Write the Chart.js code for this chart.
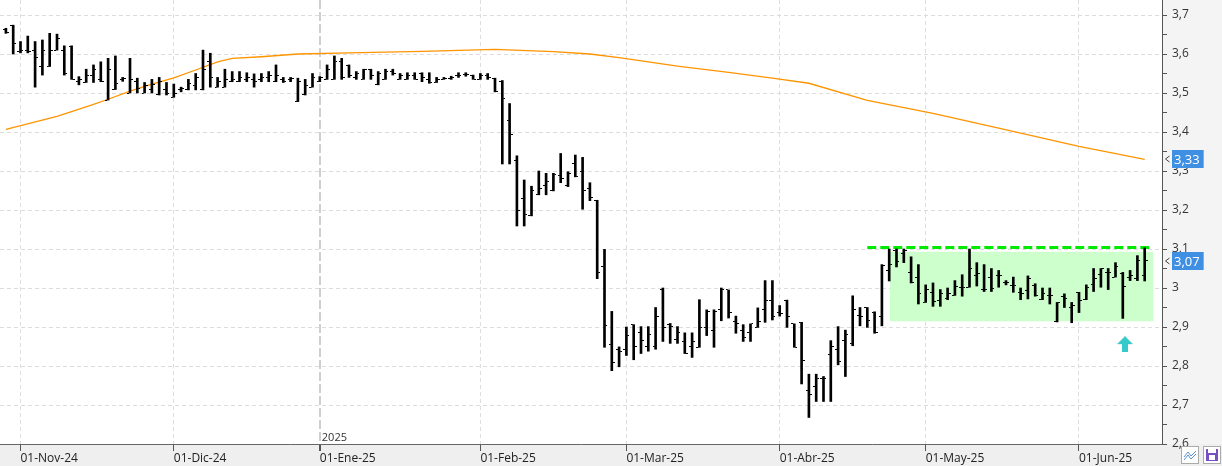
<!DOCTYPE html>
<html>
<head>
<meta charset="utf-8">
<script src="https://cdn.jsdelivr.net/npm/chart.js@4.4.1/dist/chart.umd.min.js"></script>
<style>
  html, body { margin: 0; padding: 0; background: #fff; }
  #wrap { width: 1222px; height: 466px; }
</style>
</head>
<body>
<div id="wrap"><canvas id="chart" width="1222" height="466"></canvas></div>
<script>
// trading-day index: 0 = 01-Nov-24, -2 / -1 = last two sessions of October
const firstIndex = -2;

const opens = [
    3.662, 3.674, 3.607, 3.610, 3.610, 3.568, 3.568, 3.610, 3.610, 3.620,
    3.530, 3.527, 3.545, 3.535, 3.482, 3.509, 3.535, 3.500, 3.530, 3.500,
    3.510, 3.495, 3.510, 3.489, 3.510, 3.510, 3.520, 3.508, 3.580, 3.515,
    3.515, 3.529, 3.530, 3.535, 3.535, 3.535, 3.540, 3.529, 3.535, 3.535,
    3.478, 3.495, 3.515, 3.529, 3.535, 3.535, 3.580, 3.570, 3.540, 3.535,
    3.560, 3.521, 3.535, 3.555, 3.535, 3.535, 3.545, 3.550, 3.535, 3.527,
    3.535, 3.538, 3.545, 3.548, 3.545, 3.535, 3.545, 3.538, 3.530, 3.430,
    3.326, 3.230, 3.185, 3.239, 3.262, 3.249, 3.288, 3.264, 3.320, 3.300,
    3.256, 3.225, 3.054, 2.854, 2.843, 2.843, 2.906, 2.885, 2.850, 2.850,
    2.995, 2.906, 2.868, 2.864, 2.850, 2.848, 2.900, 2.890, 2.944, 2.995,
    2.913, 2.890, 2.885, 2.899, 2.944, 2.969, 2.938, 2.969, 2.908, 2.912,
    2.738, 2.748, 2.769, 2.829, 2.843, 2.865, 2.858, 2.930, 2.949, 2.937,
    2.927, 3.045, 3.097, 3.089, 3.041, 3.028, 2.963, 2.989, 2.968, 2.972,
    2.981, 3.002, 3.002, 3.031, 2.995, 3.026, 3.032, 3.013, 3.006, 2.989,
    2.994, 3.006, 2.970, 2.981, 2.913, 2.979, 2.950, 2.989, 2.970, 3.008,
    3.034, 3.041, 3.028, 3.037, 3.026, 3.024, 3.031
];
const highs = [
    3.666, 3.674, 3.632, 3.646, 3.632, 3.636, 3.653, 3.651, 3.621, 3.621,
    3.542, 3.561, 3.572, 3.580, 3.589, 3.595, 3.540, 3.589, 3.538, 3.527,
    3.535, 3.540, 3.527, 3.523, 3.515, 3.535, 3.550, 3.610, 3.602, 3.540,
    3.561, 3.555, 3.555, 3.552, 3.549, 3.550, 3.555, 3.572, 3.540, 3.540,
    3.538, 3.535, 3.550, 3.542, 3.572, 3.595, 3.589, 3.572, 3.555, 3.561,
    3.561, 3.555, 3.561, 3.561, 3.550, 3.552, 3.552, 3.552, 3.552, 3.540,
    3.540, 3.543, 3.552, 3.552, 3.546, 3.550, 3.550, 3.538, 3.532, 3.473,
    3.339, 3.277, 3.261, 3.300, 3.294, 3.294, 3.345, 3.298, 3.341, 3.335,
    3.270, 3.225, 3.099, 2.940, 2.849, 2.900, 2.906, 2.901, 2.901, 2.950,
    3.000, 2.909, 2.901, 2.885, 2.885, 2.970, 2.944, 2.944, 3.000, 2.995,
    2.928, 2.906, 2.908, 2.949, 3.019, 3.019, 2.955, 2.969, 2.908, 2.912,
    2.779, 2.779, 2.773, 2.865, 2.901, 2.892, 2.980, 2.950, 2.950, 2.939,
    3.060, 3.100, 3.100, 3.100, 3.080, 3.060, 3.008, 3.013, 2.996, 3.000,
    3.019, 3.034, 3.100, 3.065, 3.060, 3.050, 3.045, 3.019, 3.028, 3.000,
    3.031, 3.011, 3.000, 3.000, 2.963, 2.985, 2.963, 2.989, 3.008, 3.050,
    3.050, 3.050, 3.065, 3.040, 3.045, 3.083, 3.103
];
const lows = [
    3.653, 3.600, 3.603, 3.603, 3.515, 3.546, 3.568, 3.610, 3.546, 3.535,
    3.521, 3.527, 3.527, 3.529, 3.482, 3.509, 3.530, 3.500, 3.500, 3.500,
    3.500, 3.495, 3.495, 3.489, 3.503, 3.508, 3.508, 3.508, 3.515, 3.515,
    3.515, 3.529, 3.529, 3.529, 3.515, 3.529, 3.529, 3.529, 3.527, 3.529,
    3.478, 3.495, 3.515, 3.529, 3.535, 3.535, 3.535, 3.540, 3.535, 3.535,
    3.535, 3.521, 3.535, 3.546, 3.535, 3.535, 3.535, 3.529, 3.525, 3.527,
    3.535, 3.535, 3.540, 3.543, 3.535, 3.535, 3.535, 3.503, 3.318, 3.318,
    3.159, 3.159, 3.185, 3.239, 3.239, 3.249, 3.270, 3.260, 3.285, 3.202,
    3.224, 3.024, 2.848, 2.788, 2.798, 2.827, 2.816, 2.832, 2.838, 2.843,
    2.863, 2.858, 2.858, 2.832, 2.822, 2.848, 2.878, 2.848, 2.916, 2.923,
    2.884, 2.863, 2.863, 2.899, 2.912, 2.918, 2.928, 2.899, 2.848, 2.754,
    2.668, 2.709, 2.709, 2.709, 2.803, 2.773, 2.852, 2.903, 2.899, 2.884,
    2.903, 3.018, 3.054, 3.065, 3.013, 2.959, 2.963, 2.953, 2.953, 2.970,
    2.981, 2.979, 3.002, 3.005, 2.991, 2.991, 3.002, 3.008, 2.989, 2.970,
    2.972, 2.979, 2.970, 2.959, 2.913, 2.950, 2.911, 2.937, 2.970, 2.991,
    3.002, 2.996, 3.028, 2.922, 3.019, 3.019, 3.018
];
const closes = [
    3.656, 3.627, 3.610, 3.607, 3.590, 3.610, 3.610, 3.640, 3.550, 3.535,
    3.535, 3.545, 3.560, 3.530, 3.560, 3.525, 3.538, 3.535, 3.512, 3.520,
    3.522, 3.530, 3.500, 3.500, 3.512, 3.525, 3.540, 3.560, 3.540, 3.530,
    3.535, 3.535, 3.540, 3.540, 3.530, 3.540, 3.545, 3.545, 3.530, 3.538,
    3.530, 3.520, 3.540, 3.540, 3.560, 3.580, 3.540, 3.545, 3.550, 3.560,
    3.545, 3.550, 3.555, 3.550, 3.545, 3.545, 3.535, 3.540, 3.527, 3.535,
    3.538, 3.540, 3.545, 3.548, 3.535, 3.545, 3.540, 3.503, 3.485, 3.394,
    3.198, 3.189, 3.251, 3.255, 3.273, 3.292, 3.281, 3.294, 3.285, 3.249,
    3.232, 3.040, 2.905, 2.810, 2.837, 2.878, 2.849, 2.865, 2.880, 2.928,
    2.900, 2.901, 2.885, 2.832, 2.864, 2.900, 2.939, 2.939, 2.995, 2.938,
    2.909, 2.874, 2.908, 2.913, 2.969, 2.928, 2.935, 2.928, 2.848, 2.814,
    2.728, 2.769, 2.769, 2.850, 2.812, 2.880, 2.944, 2.927, 2.916, 2.885,
    3.057, 3.060, 3.067, 3.095, 3.013, 2.985, 2.996, 2.965, 2.985, 2.985,
    3.005, 3.002, 3.050, 3.037, 2.995, 2.998, 3.032, 3.015, 3.006, 2.985,
    3.024, 2.981, 2.985, 2.981, 2.963, 2.974, 2.955, 2.968, 3.002, 3.024,
    3.050, 3.041, 3.055, 3.005, 3.031, 3.071, 3.070
];

// moving average read at a few sessions, the line joins them
const maIndex = [-2, 5, 10, 12, 15, 18, 21, 24, 27, 29, 33, 38, 45, 55, 65, 73, 78, 82, 90, 97, 103, 108, 116, 125, 134, 145, 154];
const maValue = [3.407, 3.440, 3.471, 3.484, 3.505, 3.523, 3.539, 3.559, 3.580, 3.589, 3.593, 3.600, 3.603, 3.607, 3.612, 3.606, 3.600, 3.591, 3.569, 3.553, 3.538, 3.525, 3.481, 3.448, 3.410, 3.363, 3.330];

// month labels and the session they fall on
const monthLabels = ["01-Nov-24", "01-Dic-24", "01-Ene-25", "01-Feb-25", "01-Mar-25", "01-Abr-25", "01-May-25", "01-Jun-25"];
const monthStarts = [0, 21, 41, 63, 83, 104, 124, 145];
const yearStart = 41;
const yearLabel = "2025";

// lateral range (green box), resistance and signal arrow
const rangeFrom = 119.1, rangeTo = 155.2;
const rangeTop = 3.093, rangeBottom = 2.915;
const resistFrom = 116, resistTo = 155.1, resistLevel = 3.104;
const arrowAt = 151.3, arrowPrice = 2.856;

const yMin = 2.6, yMax = 3.7385;
const yTickValues = [];
for (let k = 0; k <= 22; k++) yTickValues.push(+(2.6 + k * 0.05).toFixed(2));

const isMajor = (v) => Math.abs(v * 10 - Math.round(v * 10)) < 1e-6;
const fmt = (v, d) => Number(v.toFixed(d)).toString().replace(".", ",");

function tickImage(side) {
    const c = document.createElement("canvas");
    c.width = 6;
    c.height = 1;
    const g = c.getContext("2d");
    g.fillStyle = "#000";
    g.fillRect(side === "left" ? 0 : 4, 0, 2, 1);
    return c;
}

function arrowImage() {
    const c = document.createElement("canvas");
    c.width = 16;
    c.height = 16;
    const g = c.getContext("2d");
    g.fillStyle = "#36c9c9";
    g.beginPath();
    g.moveTo(8, 0);
    g.lineTo(16, 8);
    g.lineTo(0, 8);
    g.closePath();
    g.fill();
    g.fillRect(5, 8, 6, 8);
    return c;
}

const bars = [], openPts = [], closePts = [];
opens.forEach((o, k) => {
    const x = firstIndex + k;
    bars.push({ x: x, y: [lows[k], highs[k]] });
    openPts.push({ x: x, y: o });
    closePts.push({ x: x, y: closes[k] });
});
const maPts = maIndex.map((x, k) => ({ x: x, y: maValue[k] }));

// the plot runs right up to the canvas edges
const noPadding = (scale) => {
    scale.paddingLeft = 0;
    scale.paddingRight = 0;
    scale.paddingTop = 0;
    scale.paddingBottom = 0;
};

// backgrounds, value tags and the small icons
const decor = {
    id: "decor",
    beforeDraw(chart) {
        const { ctx, chartArea: a, width, height } = chart;
        ctx.save();
        ctx.fillStyle = "#f4f4f5";
        ctx.fillRect(a.right, 0, width - a.right, a.bottom);
        ctx.fillStyle = "#efefef";
        ctx.fillRect(0, a.bottom, width, height - a.bottom);
        ctx.fillStyle = "#ffffff";
        ctx.fillRect(a.left, a.top, a.right - a.left, a.bottom - a.top);
        ctx.restore();
    },
    afterDraw(chart) {
        const { ctx, chartArea: a, scales } = chart;
        ctx.save();

        // year mark
        ctx.font = "11px 'Open Sans'";
        ctx.fillStyle = "#333";
        ctx.textBaseline = "alphabetic";
        ctx.fillText(yearLabel, scales.x.getPixelForValue(yearStart) + 2, a.bottom - 3);

        // last-value tags
        const tags = [
            maValue[maValue.length - 1],
            closes[closes.length - 1],
        ];
        ctx.font = "13px 'Open Sans'";
        tags.forEach((v) => {
            const y = Math.round(scales.y.getPixelForValue(v));
            const txt = fmt(v, 2);
            const w = ctx.measureText(txt).width + 6;
            ctx.fillStyle = "#3f8fe2";
            ctx.fillRect(a.right + 10, y - 9, w, 18);
            ctx.fillStyle = "#fff";
            ctx.textBaseline = "middle";
            ctx.fillText(txt, a.right + 12, y + 1);
            ctx.strokeStyle = "#444";
            ctx.lineWidth = 1;
            ctx.beginPath();
            ctx.moveTo(a.right + 7.5, y - 3);
            ctx.lineTo(a.right + 3.5, y);
            ctx.lineTo(a.right + 7.5, y + 3);
            ctx.stroke();
        });

        // toolbar icons
        ctx.fillStyle = "#fff";
        ctx.strokeStyle = "#aaa";
        ctx.fillRect(1181.5, 446.5, 17, 17);
        ctx.strokeRect(1181.5, 446.5, 17, 17);
        ctx.strokeStyle = "#5b8fd6";
        ctx.beginPath();
        ctx.moveTo(1184, 457);
        ctx.lineTo(1188, 452);
        ctx.lineTo(1191, 456);
        ctx.lineTo(1196, 451);
        ctx.moveTo(1184, 460);
        ctx.lineTo(1188, 455);
        ctx.lineTo(1191, 459);
        ctx.lineTo(1196, 454);
        ctx.stroke();
        ctx.fillRect(1203.5, 446.5, 17, 17);
        ctx.strokeStyle = "#aaa";
        ctx.strokeRect(1203.5, 446.5, 17, 17);
        ctx.fillStyle = "#7a4fc4";
        ctx.fillRect(1206, 449, 12, 12);
        ctx.fillStyle = "#fff";
        ctx.fillRect(1208, 449, 8, 4);
        ctx.fillRect(1209, 455, 6, 5);
        ctx.restore();
    },
};

const ctx = document.getElementById("chart").getContext("2d");
new Chart(ctx, {
    type: "bar",
    data: {
        datasets: [
            {
                type: "line",
                data: [{ x: resistFrom, y: resistLevel }, { x: resistTo, y: resistLevel }],
                borderColor: "#00ea00",
                borderWidth: 3,
                borderDash: [9, 4],
                pointRadius: 0,
                order: 5,
            },
            {
                type: "line",
                data: [{ x: rangeFrom, y: rangeTop }, { x: rangeTo, y: rangeTop }],
                borderWidth: 0,
                borderColor: "rgba(0,0,0,0)",
                backgroundColor: "#ccffcc",
                fill: { value: rangeBottom },
                pointRadius: 0,
                order: 10,
            },
            {
                type: "line",
                data: maPts,
                borderColor: "#ff9400",
                borderWidth: 1.3,
                pointRadius: 0,
                tension: 0,
                order: 4,
            },
            {
                type: "bar",
                data: bars,
                backgroundColor: "#000",
                barThickness: 2,
                grouped: false,
                order: 2,
            },
            {
                type: "line",
                data: openPts,
                showLine: false,
                pointStyle: tickImage("left"),
                pointRadius: 3,
                order: 1,
            },
            {
                type: "line",
                data: closePts,
                showLine: false,
                pointStyle: tickImage("right"),
                pointRadius: 3,
                order: 1,
            },
            {
                type: "line",
                data: [{ x: arrowAt, y: arrowPrice }],
                showLine: false,
                pointStyle: arrowImage(),
                pointRadius: 8,
                order: 0,
            },
        ],
    },
    options: {
        responsive: false,
        animation: false,
        devicePixelRatio: 1,
        layout: { padding: 0, autoPadding: false },
        plugins: {
            legend: { display: false },
            tooltip: { enabled: false },
        },
        scales: {
            x: {
                type: "linear",
                min: -2.808,
                max: 156.37,
                offset: false,
                afterBuildTicks: (scale) => {
                    scale.ticks = monthStarts.map((v) => ({ value: v }));
                },
                afterFit: (scale) => {
                    scale.height = 22;
                    noPadding(scale);
                },
                grid: {
                    offset: false,
                    color: (c) => (c.tick && c.tick.value === yearStart ? "#cfcfcf" : "#dedede"),
                    lineWidth: (c) => (c.tick && c.tick.value === yearStart ? 2 : 1),
                    tickColor: "#555",
                    tickLength: 7,
                },
                border: {
                    color: "#666",
                    dash: (c) => (c.tick && c.tick.value === yearStart ? [9, 3] : [4, 3]),
                },
                ticks: {
                    autoSkip: false,
                    maxRotation: 0,
                    align: "start",
                    padding: 0,
                    color: "#222",
                    font: { family: "'Open Sans'", size: 12 },
                    callback: (v) => {
                        const k = monthStarts.indexOf(v);
                        return k >= 0 ? monthLabels[k] : "";
                    },
                },
            },
            y: {
                type: "linear",
                position: "right",
                min: yMin,
                max: yMax,
                afterBuildTicks: (scale) => {
                    scale.ticks = yTickValues.map((v) => ({ value: v }));
                },
                afterFit: (scale) => {
                    scale.width = 60;
                    noPadding(scale);
                },
                grid: {
                    color: (c) => (c.tick && isMajor(c.tick.value) ? "#dcdcdc" : "rgba(0,0,0,0)"),
                    tickColor: "#555",
                    tickLength: 5,
                },
                border: {
                    color: "#555",
                    dash: [4, 3],
                },
                ticks: {
                    autoSkip: false,
                    padding: 5,
                    color: "#333",
                    font: { family: "'Open Sans'", size: 12 },
                    callback: (v) => (isMajor(v) ? fmt(v, 1) : ""),
                },
            },
        },
    },
    plugins: [decor],
});
</script>
</body>
</html>
